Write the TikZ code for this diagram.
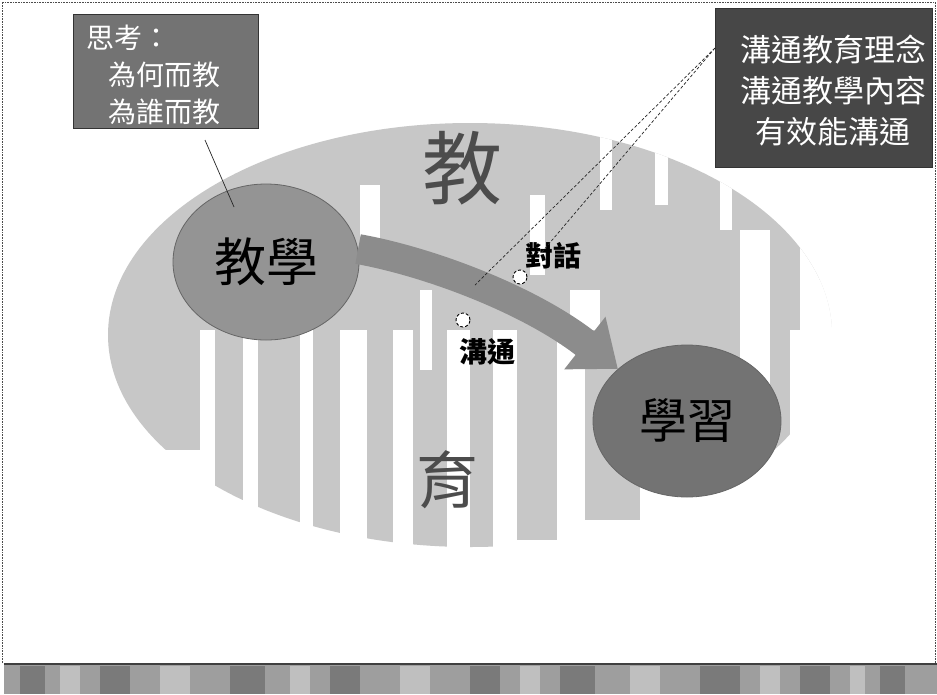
\documentclass[tikz,border=0pt]{standalone}
\usepackage{fontspec}
\newfontfamily\cjk{Noto Sans CJK TC}
\usetikzlibrary{arrows.meta,shapes.geometric}
\tikzset{
  bubble/.style={ellipse, draw=black!60, line width=0.8pt, inner sep=0pt, text=black},
  darkbox/.style={rectangle, draw=black!80, line width=0.8pt, inner sep=0pt},
  dotmark/.style={circle, draw=black, densely dashed, line width=0.9pt, fill=white, minimum size=14pt, inner sep=0pt},
  callout/.style={densely dashed, line width=0.7pt, black!85},
  bigchar/.style={font=\cjk\fontsize{#1}{#1}\selectfont, text=black!70, inner sep=0pt},
  smalllab/.style={font=\cjk\bfseries\fontsize{28}{28}\selectfont, text=black, inner sep=0pt},
}
\begin{document}
\begin{tikzpicture}[x=1pt,y=-1pt]
\useasboundingbox (0,0) rectangle (937,694);
\fill[white] (0,0) rectangle (937,694);
% frame
\draw[densely dotted, black!70, line width=0.6pt] (2,663) -- (2,2) -- (935,2) -- (935,663);
% big striped ellipse background
\begin{scope}
  \clip (470,335) ellipse [x radius=362, y radius=212];
  % upper part, mostly solid
  \fill[black!22] (100,110) rectangle (850,330);
  % lower part: vertical columns with ragged bottoms
  \foreach \a/\b/\c in {100/200/450, 215/243/500, 258/300/525, 313/340/535, 367/393/545, 413/447/548, 470/493/548, 517/557/540, 585/640/520, 640/790/470}
    \fill[black!22] (\a,329) rectangle (\b,\c);
  % white gaps reaching up into the upper part
  \foreach \a/\b/\c in {360/380/185, 420/432/290, 530/545/195, 600/612/130, 655/668/125, 720/732/150, 790/812/125}
    \fill[white] (\a,\c) rectangle (\b,\c+80);
  \foreach \a/\b/\c in {740/770/230, 800/850/230}
    \fill[white] (\a,\c) rectangle (\b,450);
  \fill[white] (570,290) rectangle (600,330);
  \fill[white] (820,100) rectangle (860,560);
\end{scope}
% big characters
\node[bigchar=80] (jiao) at (462,168) {教};
\node[bigchar=62] (yu) at (447,480) {育};
% circles
\node[bubble, fill=black!42, minimum width=186pt, minimum height=156pt,
      font=\cjk\fontsize{52}{52}\selectfont] (teach) at (266,262) {教學};
\node[bubble, fill=black!55, minimum width=188pt, minimum height=152pt,
      font=\cjk\fontsize{48}{48}\selectfont] (learn) at (687,421) {學習};
% arrow
\draw[line width=30pt, black!45, -{Triangle[length=42pt,width=64pt]}]
  (teach.8) .. controls (430,262) and (530,300) .. (learn.143);
% small labels
\node[dotmark] (d1) at (520,277) {};
\node[dotmark] (d2) at (463,320) {};
\node[smalllab] (dialog) at (553,256) {對話};
\node[smalllab] (comm) at (487,352) {溝通};
% left box
\node[darkbox, fill=black!55, minimum width=185pt, minimum height=114pt] (lbox) at (165.5,71) {};
\node[font=\cjk\fontsize{28}{37}\selectfont, text=white, align=left, anchor=north west, inner sep=0pt]
  (ltext) at (86,25) {思考：\\\hspace{22pt}為何而教\\\hspace{22pt}為誰而教};
\coordinate (lp1) at (205,140);
\coordinate (lp2) at (234,207);
\draw[black!85, line width=0.7pt] (lp1) -- (lp2);
% right box
\node[darkbox, fill=black!72, minimum width=217pt, minimum height=159pt] (rbox) at (823.5,87.5) {};
\node[font=\cjk\fontsize{31}{41}\selectfont, text=white, align=center, inner sep=0pt]
  (rtext) at (833,91) {溝通教育理念\\溝通教學內容\\有效能溝通};
\coordinate (rp) at (715,48);
\coordinate (re1) at (475,285);
\coordinate (re2) at (542,252);
\draw[callout] (rp) -- (re1);
\draw[callout] (rp) -- (re2);
% bottom band
\fill[black!38] (4,663) rectangle (937,694);
\foreach \a/\b in {20/45, 100/130, 230/265, 330/360, 470/500, 560/595, 700/740, 800/830, 880/905}
  \fill[black!52] (\a,666) rectangle (\b,694);
\foreach \a/\b in {60/80, 160/190, 290/310, 400/430, 520/540, 630/660, 760/780, 850/865}
  \fill[black!25] (\a,666) rectangle (\b,694);
\draw[black!75, line width=1.5pt] (4,664) -- (937,664);
\end{tikzpicture}
\end{document}
